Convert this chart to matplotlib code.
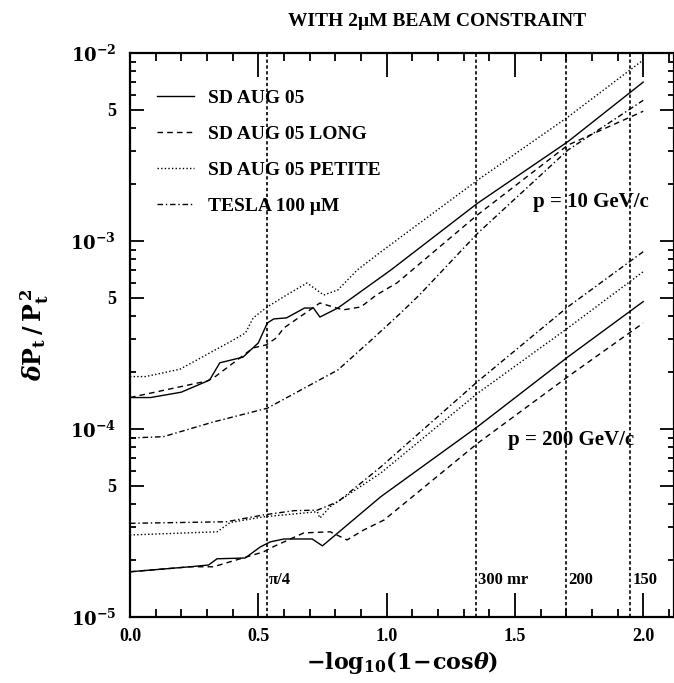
import matplotlib
matplotlib.use("Agg")
import matplotlib.pyplot as plt
from matplotlib.ticker import FixedLocator, NullFormatter


# p = 10 GeV/c curves
sd10_x = [0, 0.08, 0.2, 0.31, 0.35, 0.44, 0.50, 0.535, 0.56, 0.61, 0.68, 0.715, 0.74, 0.81, 1.016, 1.355, 1.707, 2.0]
sd10_y = [1.47e-4, 1.47e-4, 1.57e-4, 1.82e-4, 2.25e-4, 2.41e-4, 2.87e-4, 3.66e-4, 3.85e-4, 3.9e-4,
          4.4e-4, 4.4e-4, 3.94e-4, 4.4e-4, 7.0e-4, 1.59e-3, 3.38e-3, 7.0e-3]
long10_x = [0, 0.3, 0.33, 0.48, 0.53, 0.57, 0.60, 0.74, 0.83, 0.90, 0.96, 1.04, 1.355, 1.707, 2.0]
long10_y = [1.47e-4, 1.80e-4, 1.89e-4, 2.7e-4, 2.8e-4, 3.05e-4, 3.45e-4, 4.68e-4, 4.3e-4, 4.46e-4,
            5.16e-4, 5.98e-4, 1.38e-3, 3.24e-3, 4.9e-3]
petite10_x = [0, 0.06, 0.195, 0.39, 0.45, 0.48, 0.535, 0.61, 0.69, 0.755, 0.81, 0.885, 0.977, 1.355, 1.707, 2.0]
petite10_y = [1.90e-4, 1.90e-4, 2.08e-4, 2.91e-4, 3.24e-4, 3.9e-4, 4.46e-4, 5.16e-4, 5.98e-4, 5.16e-4,
              5.49e-4, 7.0e-4, 8.74e-4, 2.11e-3, 4.57e-3, 9.18e-3]
tesla10_x = [0, 0.13, 0.325, 0.535, 0.69, 0.81, 0.94, 1.055, 1.13, 1.355, 1.707, 2.0]
tesla10_y = [8.96e-5, 9.1e-5, 1.09e-4, 1.29e-4, 1.68e-4, 2.06e-4, 2.97e-4, 4.14e-4, 5.2e-4, 1.1e-3, 3.05e-3, 5.6e-3]

# p = 200 GeV/c curves
sd200_x = [0, 0.065, 0.234, 0.306, 0.339, 0.449, 0.508, 0.547, 0.6, 0.71, 0.75, 0.977, 1.355, 1.707, 2.0]
sd200_y = [1.74e-5, 1.77e-5, 1.85e-5, 1.89e-5, 2.04e-5, 2.06e-5, 2.36e-5, 2.51e-5, 2.6e-5, 2.6e-5,
           2.39e-5, 4.36e-5, 1.03e-4, 2.42e-4, 4.76e-4]
long200_x = [0, 0.234, 0.325, 0.52, 0.56, 0.677, 0.78, 0.846, 0.91, 0.99, 1.355, 1.707, 2.0]
long200_y = [1.74e-5, 1.85e-5, 1.85e-5, 2.22e-5, 2.37e-5, 2.8e-5, 2.84e-5, 2.57e-5, 2.9e-5, 3.28e-5,
             8.4e-5, 1.9e-4, 3.66e-4]
petite200_x = [0, 0.34, 0.39, 0.52, 0.73, 0.74, 0.78, 0.977, 1.355, 1.707, 2.0]
petite200_y = [2.73e-5, 2.84e-5, 3.18e-5, 3.41e-5, 3.63e-5, 3.36e-5, 3.86e-5, 5.83e-5, 1.55e-4, 3.45e-4, 6.87e-4]
tesla200_x = [0, 0.375, 0.52, 0.64, 0.73, 0.81, 0.977, 1.355, 1.707, 2.0]
tesla200_y = [3.15e-5, 3.21e-5, 3.49e-5, 3.68e-5, 3.7e-5, 4.1e-5, 6.28e-5, 1.79e-4, 4.47e-4, 8.77e-4]

legend_labels = ["SD AUG 05", "SD AUG 05 LONG", "SD AUG 05 PETITE", "TESLA 100 \u03bcM"]

# angle markers
angle_x = [0.533, 1.35, 1.70, 1.95]
angle_labels = ["\u03c0/4", "300 mr", "200", "150"]

y_major = [1e-5, 5e-5, 1e-4, 5e-4, 1e-3, 5e-3, 1e-2]
y_major_labels = [r"$\mathbf{10^{-5}}$", "5", r"$\mathbf{10^{-4}}$", "5", r"$\mathbf{10^{-3}}$", "5",
                  r"$\mathbf{10^{-2}}$"]

FONT = ["Liberation Serif", "DejaVu Serif"]

plt.rcParams["font.family"] = FONT
plt.rcParams["font.weight"] = "bold"
plt.rcParams["mathtext.fontset"] = "dejavuserif"

SOLID = "-"
DASHED = (0, (4.0, 3.0))
DOTTED = (0, (1.0, 1.6))
DASHDOT = (0, (4.0, 2.0, 1.0, 2.0))


def draw_group(ax, groups, with_labels):
    styles = [SOLID, DASHED, DOTTED, DASHDOT]
    lines = []
    for (xs, ys), ls, lab in zip(groups, styles, legend_labels):
        line, = ax.plot(xs, ys, color="black", lw=1.0, linestyle=ls,
                        label=lab if with_labels else None)
        lines.append(line)
    return lines


def main():
    fig = plt.figure(figsize=(6.74, 6.83), dpi=100)
    ax = fig.add_axes([130 / 674, 66 / 683, 544 / 674, 564 / 683])

    ax.set_yscale("log")
    ax.set_xlim(0, 2.12)
    ax.set_ylim(1e-5, 1e-2)

    draw_group(ax, [(sd10_x, sd10_y), (long10_x, long10_y), (petite10_x, petite10_y),
                    (tesla10_x, tesla10_y)], True)
    draw_group(ax, [(sd200_x, sd200_y), (long200_x, long200_y), (petite200_x, petite200_y),
                    (tesla200_x, tesla200_y)], False)

    for xv, lab in zip(angle_x, angle_labels):
        ax.axvline(xv, color="black", lw=1.2, linestyle=(0, (2.0, 1.5)))
        ax.text(xv + 0.008, 1.57e-5, lab, fontsize=12, va="center", ha="left")

    ax.text(1.571, 1.61e-3, "p = 10 GeV/c", fontsize=15, va="center", ha="left")
    ax.text(1.474, 8.7e-5, "p = 200 GeV/c", fontsize=15, va="center", ha="left")

    # axes ticks: inward on every side
    ax.set_xticks([0.0, 0.5, 1.0, 1.5, 2.0])
    ax.set_xticklabels(["0.0", "0.5", "1.0", "1.5", "2.0"])
    ax.xaxis.set_minor_locator(FixedLocator([i / 10 for i in range(22) if i % 5]))
    ax.yaxis.set_major_locator(FixedLocator(y_major))
    ax.set_yticklabels(y_major_labels)
    minors = [m * 10.0 ** e for e in (-5, -4, -3) for m in (2, 3, 4, 6, 7, 8, 9)]
    ax.yaxis.set_minor_locator(FixedLocator(minors))
    ax.yaxis.set_minor_formatter(NullFormatter())

    ax.tick_params(axis="both", which="both", direction="in", top=True, right=True, width=1.3)
    ax.tick_params(axis="x", which="major", length=17, pad=8, labelsize=13)
    ax.tick_params(axis="x", which="minor", length=6)
    ax.tick_params(axis="y", which="major", length=10, pad=10, labelsize=13)
    ax.tick_params(axis="y", which="minor", length=4)
    for sp in ax.spines.values():
        sp.set_linewidth(1.6)

    ax.set_xlabel(r"$-\mathrm{log_{10}(1\!-\!cos}\theta)$", fontsize=16, labelpad=3)
    ax.set_ylabel(r"$\delta\mathbf{P_t\,/\,P_t^{\,2}}$", fontsize=17, labelpad=14)
    fig.text(437 / 674, 1 - 22 / 683, "WITH 2\u03bcM BEAM CONSTRAINT", fontsize=14,
             ha="center", va="center")

    ax.legend(loc="upper left", bbox_to_anchor=(0.035, 0.95), frameon=False, fontsize=14,
              handlelength=1.9, handletextpad=0.75, labelspacing=0.95, borderaxespad=0)

    fig.savefig("out.png", dpi=100)


if __name__ == "__main__":
    main()
